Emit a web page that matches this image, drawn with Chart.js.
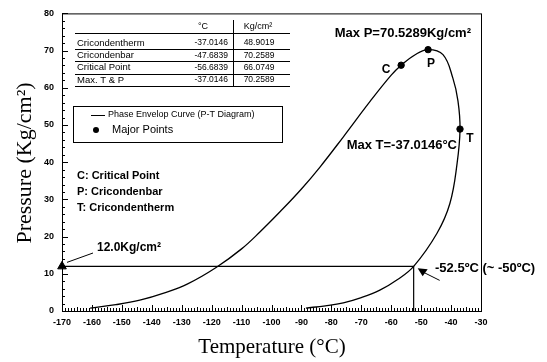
<!DOCTYPE html>
<html>
<head>
<meta charset="utf-8">
<script src="https://cdn.jsdelivr.net/npm/chart.js@4.4.1/dist/chart.umd.min.js"></script>
<style>
  html, body { margin: 0; padding: 0; background: #fff; }
  #wrap { width: 547px; height: 362px; }
</style>
</head>
<body>
<div id="wrap"><canvas id="pt"></canvas></div>
<script>
// Phase envelope (P-T diagram): [T degC, P Kg/cm2]
const envelopeT = [-160.6, -152, -144, -136, -128, -118.5, -110, -103.8, -97, -90, -83.8, -76.1, -67, -60,
    -56.68, -52, -47.68, -42.7, -39.4, -37.7, -37.01, -38, -40.4, -44.7, -52.5, -58, -63.8, -70, -76, -82, -88.5];
const envelopeP = [0.8, 1.7, 2.9, 4.8, 7.3, 11.7, 16.7, 21.3, 26.8, 32.8, 38.7, 46.7, 56.4, 63.4,
    66.07, 68.9, 70.26, 68.9, 62.6, 56.5, 48.9, 39.6, 28.9, 20.9, 12, 8.4, 5.6, 3.6, 2.2, 1.4, 0.8];

// Major points C, P, T
const majorLabels = ['C', 'P', 'T'];
const majorT = [-56.6839, -47.6839, -37.0146];
const majorP = [66.0749, 70.2589, 48.9019];

// 12 Kg/cm2 isobar reading
const isobarT = [-170, -52.5, -52.5];
const isobarP = [12, 12, 0];

// table in the upper-left corner
const tableRows = ['Cricondentherm', 'Cricondenbar', 'Critical Point', 'Max. T & P'];
const tableTemp = ['-37.0146', '-47.6839', '-56.6839', '-37.0146'];
const tablePres = ['48.9019', '70.2589', '66.0749', '70.2589'];

const xTicks = { min: -170, max: -30, step: 10 };
const yTicks = { min: 0, max: 80, step: 10 };

const toPts = (xs, ys) => xs.map((x, i) => ({ x: x, y: ys[i] }));

const SANS = '"Liberation Sans", Arial, sans-serif';
const SERIF = '"Liberation Serif", "Times New Roman", serif';

// Draws frame, inward ticks, annotations, table and legend
const decorPlugin = {
    id: 'decor',
    afterDatasetsDraw(chart) {
        const ctx = chart.ctx;
        const a = chart.chartArea;
        const xs = chart.scales.x;
        const ys = chart.scales.y;
        const px = v => xs.getPixelForValue(v);
        const py = v => ys.getPixelForValue(v);

        ctx.save();
        ctx.strokeStyle = '#000';
        ctx.fillStyle = '#000';
        ctx.lineWidth = 1;

        // frame
        ctx.strokeRect(a.left + 0.5, a.top + 0.5, a.right - a.left, a.bottom - a.top);

        // x ticks (inward), every 1 degree
        ctx.beginPath();
        for (let v = xTicks.min; v <= xTicks.max; v++) {
            const x = Math.round(px(v)) + 0.5;
            const len = (v % 10 === 0) ? 6 : (v % 5 === 0 ? 4 : 3);
            ctx.moveTo(x, a.bottom);
            ctx.lineTo(x, a.bottom - len);
        }
        // y ticks (inward), every 2
        for (let v = yTicks.min; v <= yTicks.max; v += 2) {
            const y = Math.round(py(v)) + 0.5;
            const len = (v % 10 === 0) ? 6 : 3;
            ctx.moveTo(a.left, y);
            ctx.lineTo(a.left + len, y);
        }
        ctx.stroke();

        // point labels
        ctx.font = 'bold 12px ' + SANS;
        ctx.textBaseline = 'middle';
        ctx.textAlign = 'center';
        ctx.fillText('C', px(majorT[0]) - 15, py(majorP[0]) + 4);
        ctx.fillText('P', px(majorT[1]) + 3, py(majorP[1]) + 14);
        ctx.fillText('T', px(majorT[2]) + 10, py(majorP[2]) + 10);

        // max annotations
        ctx.font = 'bold 13px ' + SANS;
        ctx.textAlign = 'right';
        ctx.fillText('Max P=70.5289Kg/cm\u00B2', 471, 33);
        ctx.fillText('Max T=-37.0146\u00B0C', 457, 145);

        // 12.0 Kg/cm2 callout
        ctx.font = 'bold 12px ' + SANS;
        ctx.textAlign = 'left';
        ctx.fillText('12.0Kg/cm\u00B2', 97, 248);
        ctx.beginPath();
        ctx.moveTo(93, 253);
        ctx.lineTo(px(-170) + 5, py(12) - 4);
        ctx.stroke();

        // -52.5 callout with arrow
        const ax = px(-52.5) + 4, ay = py(12) + 2;
        const tx = ax + 22, tyy = ay + 12;
        ctx.beginPath();
        ctx.moveTo(tx, tyy);
        ctx.lineTo(ax + 4, ay + 3);
        ctx.stroke();
        ctx.beginPath();
        ctx.moveTo(ax, ay);
        ctx.lineTo(ax + 10, ay + 1);
        ctx.lineTo(ax + 5, ay + 8);
        ctx.closePath();
        ctx.fill();
        ctx.font = 'bold 13px ' + SANS;
        ctx.fillText('-52.5\u00BAC (~ -50\u00BAC)', 435, 268);

        // C / P / T legend text
        ctx.font = 'bold 11px ' + SANS;
        ctx.fillText('C: Critical Point', 77, 176);
        ctx.fillText('P: Cricondenbar', 77, 192);
        ctx.fillText('T: Cricondentherm', 77, 208);

        // table
        ctx.font = '9px ' + SANS;
        ctx.textAlign = 'center';
        ctx.fillText('\u00B0C', 203, 27);
        ctx.fillText('Kg/cm\u00B2', 258, 27);
        ctx.beginPath();
        ctx.moveTo(75, 33.5); ctx.lineTo(290, 33.5);
        ctx.moveTo(233.5, 20); ctx.lineTo(233.5, 86);
        tableRows.forEach((name, i) => {
            const y = 43 + i * 12.3;
            ctx.font = '9.5px ' + SANS;
            ctx.textAlign = 'left';
            ctx.fillText(name, 77, y);
            ctx.font = '8.5px ' + SANS;
            ctx.textAlign = 'right';
            ctx.fillText(tableTemp[i], 228, y);
            ctx.textAlign = 'center';
            ctx.fillText(tablePres[i], 259, y);
            const ly = Math.round(y + 6) + 0.5;
            ctx.moveTo(75, ly); ctx.lineTo(290, ly);
        });
        ctx.stroke();

        // legend box
        ctx.strokeRect(73.5, 106.5, 209, 36);
        ctx.beginPath();
        ctx.moveTo(91, 115.5); ctx.lineTo(105, 115.5);
        ctx.stroke();
        ctx.textAlign = 'left';
        ctx.font = '9px ' + SANS;
        ctx.fillText('Phase Envelop Curve (P-T Diagram)', 108, 115);
        ctx.beginPath();
        ctx.arc(96, 130, 3, 0, Math.PI * 2);
        ctx.fill();
        ctx.font = '11px ' + SANS;
        ctx.fillText('Major Points', 112, 130);

        // axis titles
        ctx.font = '21px ' + SERIF;
        ctx.textAlign = 'center';
        ctx.fillText('Temperature (\u00B0C)', 272, 347);
        ctx.save();
        ctx.translate(25, 163);
        ctx.rotate(-Math.PI / 2);
        ctx.font = '22px ' + SERIF;
        ctx.fillText('Pressure (Kg/cm\u00B2)', 0, 0);
        ctx.restore();

        ctx.restore();
    }
};

new Chart(document.getElementById('pt'), {
    type: 'scatter',
    data: {
        datasets: [
            {
                label: 'Phase Envelop Curve (P-T Diagram)',
                data: toPts(envelopeT, envelopeP),
                showLine: true,
                borderColor: '#000',
                borderWidth: 1.3,
                tension: 0.4,
                pointRadius: 0
            },
            {
                label: 'Major Points',
                data: toPts(majorT, majorP),
                pointRadius: 3.2,
                backgroundColor: '#000',
                borderColor: '#000'
            },
            {
                label: 'isobar',
                data: toPts(isobarT, isobarP),
                showLine: true,
                borderColor: '#000',
                borderWidth: 1.2,
                tension: 0,
                pointRadius: 0
            },
            {
                label: 'reading',
                data: toPts([isobarT[0]], [isobarP[0]]),
                pointStyle: 'triangle',
                pointRadius: 5,
                backgroundColor: '#000',
                borderColor: '#000',
                clip: false
            }
        ]
    },
    options: {
        responsive: true,
        maintainAspectRatio: false,
        animation: false,
        layout: { padding: { top: 11, right: 66, left: 0, bottom: 0 } },
        plugins: {
            legend: { display: false },
            tooltip: { enabled: false }
        },
        scales: {
            x: {
                type: 'linear',
                min: xTicks.min,
                max: xTicks.max,
                afterFit(scale) { scale.height = 51; },
                grid: { display: false, drawTicks: false },
                border: { display: false },
                ticks: {
                    stepSize: xTicks.step,
                    padding: 6,
                    color: '#000',
                    font: { family: SANS, size: 9, weight: 'bold' }
                }
            },
            y: {
                min: yTicks.min,
                max: yTicks.max,
                afterFit(scale) { scale.width = 62; },
                grid: { display: false, drawTicks: false },
                border: { display: false },
                ticks: {
                    stepSize: yTicks.step,
                    padding: 8,
                    color: '#000',
                    font: { family: SANS, size: 9, weight: 'bold' }
                }
            }
        }
    },
    plugins: [decorPlugin]
});
</script>
</body>
</html>
